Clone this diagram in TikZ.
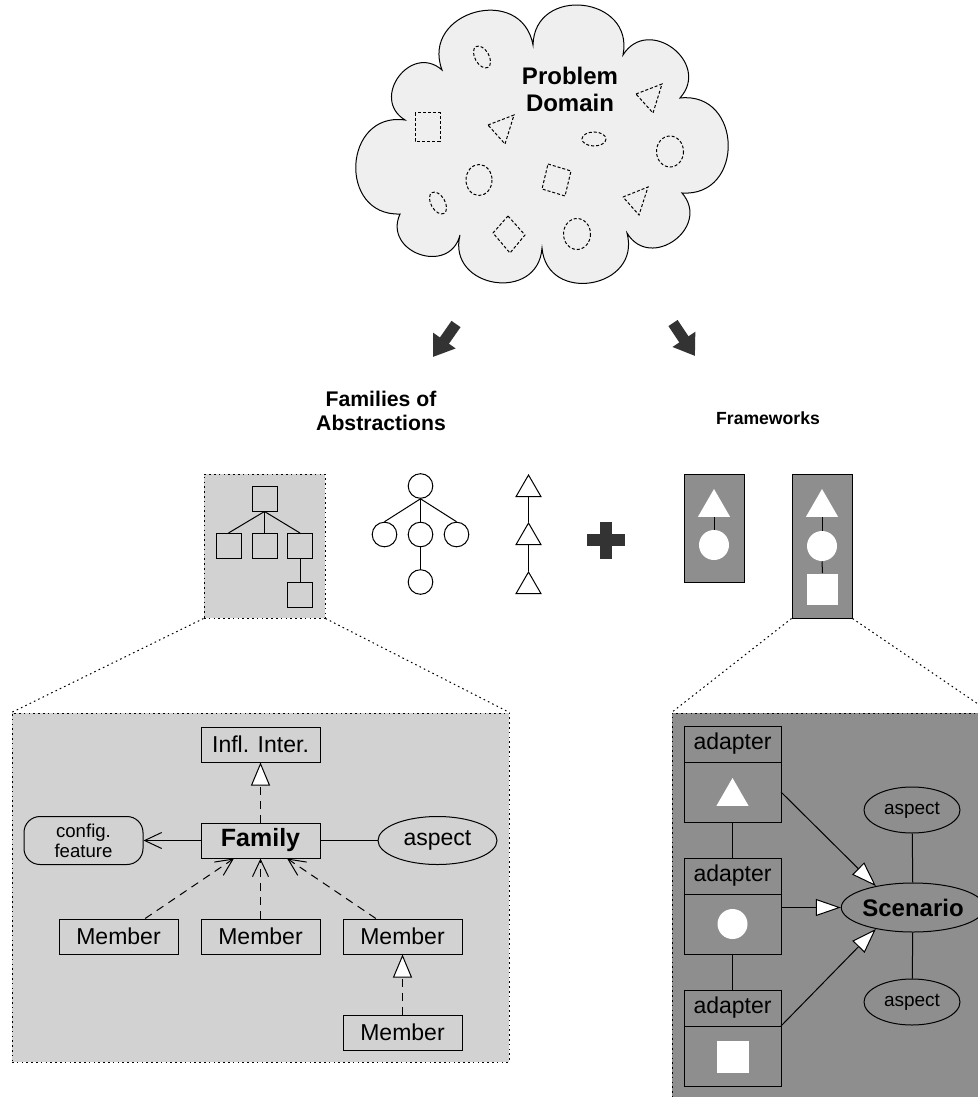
\documentclass[tikz,border=0pt]{standalone}
\usepackage{fontspec}
\setmainfont{Liberation Sans}
\usetikzlibrary{positioning,shapes.geometric,arrows.meta}

\definecolor{cloudfill}{HTML}{EFEFEF}
\definecolor{famfill}{HTML}{D2D2D2}
\definecolor{fwfill}{HTML}{8E8E8E}
\definecolor{bigarrow}{HTML}{333333}

\begin{document}
\begin{tikzpicture}
	[x=0.5pt, y=-0.5pt, line width=0.5pt, node distance=48pt,
	every node/.style={font=\fontsize{11.5}{13}\selectfont},
	title/.style={font=\fontsize{12}{13.5}\selectfont\bfseries, align=center},
	puff/.style={bend left=95, looseness=1.7},
	zoomline/.style={dash pattern=on 0.8pt off 1.6pt},
	dshape/.style={line width=0.5pt, dash pattern=on 1.5pt off 1pt},
	depline/.style={dash pattern=on 4pt off 3pt},
	blockarrow/.style={draw=bigarrow, line width=5.5pt, -{Triangle[length=10pt, width=13pt]}},
	tipopen/.style={-{Straight Barb[length=8.5pt, width=8pt]}},
	tiptri/.style={-{Triangle[length=11.5pt, width=9.5pt, fill=white]}},
	tipbig/.style={-{Triangle[length=12.5pt, width=8.5pt, fill=white]}},
	sqnode/.style={draw, rectangle, minimum size=12.5pt, inner sep=0pt},
	cnode/.style={draw, circle, minimum size=12.3pt, inner sep=0pt},
	tnode/.style={draw, regular polygon, regular polygon sides=3, minimum size=14.4pt, inner sep=0pt, anchor=corner 1},
	fwbox/.style={draw, fill=fwfill, minimum width=30pt, inner sep=0pt},
	wtri/.style={fill=white, regular polygon, regular polygon sides=3, minimum size=18.5pt, inner sep=0pt, anchor=corner 1},
	wcirc/.style={fill=white, circle, minimum size=15pt, inner sep=0pt},
	wsq/.style={fill=white, minimum size=15.5pt, inner sep=0pt},
	classbox/.style={draw, minimum width=59.5pt, minimum height=17.5pt, inner sep=0pt},
	featbox/.style={draw, rounded corners=8pt, minimum width=59.5pt, minimum height=24pt, inner sep=0pt, align=center, font=\fontsize{9.3}{10}\selectfont},
	aspL/.style={draw, ellipse, minimum width=59.5pt, minimum height=24pt, inner sep=0pt},
	aspR/.style={draw, ellipse, minimum width=48pt, minimum height=23pt, inner sep=0pt, font=\fontsize{9.5}{11}\selectfont},
	scen/.style={draw, ellipse, minimum width=60pt, minimum height=24.5pt, inner sep=0pt, font=\fontsize{12}{13}\selectfont\bfseries},
	adhead/.style={draw, minimum width=48.5pt, minimum height=18pt, inner sep=0pt, outer sep=0pt},
	adbody/.style={draw, minimum width=48.5pt, minimum height=30pt, inner sep=0pt, outer sep=0pt}]
	\useasboundingbox (0,0) rectangle (978,1097);
	% problem domain
	\draw[fill=cloudfill] (442,70) to[puff] (533,45) to[puff] (623,55) to[puff] (680,98)
		to[puff] (682,193) to[puff] (627,233) to[puff] (542,248) to[puff] (460,235)
		to[puff] (400,214) to[puff] (405,120) to[puff] (442,70) -- cycle;
	\node[title] (prob) at (570,89) {Problem\\Domain};
	\draw[dshape, rotate around={-60:(482,57)}] (482,57) ellipse [x radius=12, y radius=7];
	\draw[dshape, rotate around={-60:(438,203)}] (438,203) ellipse [x radius=12, y radius=7];
	\draw[dshape] (594,139) ellipse [x radius=12, y radius=7];
	\draw[dshape] (670,151.5) ellipse [x radius=13.5, y radius=15.5];
	\draw[dshape] (479,180) ellipse [x radius=13, y radius=15.5];
	\draw[dshape] (577,234) ellipse [x radius=13.5, y radius=15.5];
	\draw[dshape] (488,125) -- (514,115) -- (505,144) -- cycle;
	\draw[dshape] (636,94) -- (662,84) -- (653,113) -- cycle;
	\draw[dshape] (623,197) -- (648,187) -- (639,215) -- cycle;
	\draw[dshape] (415,113) rectangle (440,141);
	\draw[dshape] (548,164) -- (571,171) -- (565,196) -- (542,189) -- cycle;
	\draw[dshape] (508,216) -- (525,235) -- (510,253) -- (493,233) -- cycle;
	% arrows down
	\coordinate (arrL0) at (456,324);
	\coordinate (arrL1) at (433,357);
	\coordinate (arrR0) at (673,323);
	\coordinate (arrR1) at (695,356);
	\draw[blockarrow] (arrL0) -- (arrL1);
	\draw[blockarrow] (arrR0) -- (arrR1);
	\node[title, font=\fontsize{10.6}{12}\selectfont\bfseries] (famtitle) at (381,411) {Families of\\Abstractions};
	\node[title, font=\fontsize{8.8}{10}\selectfont\bfseries] (fwtitle) at (768,418) {Frameworks};
	% families
	\node[draw, zoomline, fill=famfill, minimum width=60.5pt, minimum height=72pt, inner sep=0pt] (famsel) at (264.5,546) {};
	\node[sqnode] (sq0) at (264.5,498.5) {};
	\node[sqnode] (sq1) at (228.5,546) {};
	\node[sqnode] (sq2) at (264.5,546) {};
	\node[sqnode] (sq3) at (300,546) {};
	\node[sqnode] (sq4) at (300,594.5) {};
	\draw (sq0.south) -- (sq1.north);
	\draw (sq0.south) -- (sq2.north);
	\draw (sq0.south) -- (sq3.north);
	\draw (sq3.south) -- (sq4.north);
	\node[cnode] (c0) at (420.5,486) {};
	\node[cnode] (c1) at (384.5,534.5) {};
	\node[cnode] (c2) at (420.5,534.5) {};
	\node[cnode] (c3) at (456.5,534.5) {};
	\node[cnode] (c4) at (420.5,582) {};
	\draw (c0.south) -- (c1.north);
	\draw (c0.south) -- (c2.north);
	\draw (c0.south) -- (c3.north);
	\draw (c2.south) -- (c4.north);
	\node[tnode] (t1) at (528.5,474) {};
	\node[tnode] (t2) at (528.5,522) {};
	\node[tnode] (t3) at (528.5,571) {};
	\draw (t1.side 2) -- (t2.corner 1);
	\draw (t2.side 2) -- (t3.corner 1);
	% plus
	\fill[bigarrow] (587,534) rectangle (625,546);
	\fill[bigarrow] (600,522) rectangle (612,559);
	% frameworks
	\node[fwbox, minimum height=54pt] (fw1) at (714,528) {};
	\node[wtri] (fw1t) at (714,488) {};
	\node[wcirc] (fw1c) at (714,545) {};
	\draw (fw1t.side 2) -- (fw1c.north);
	\node[fwbox, minimum height=72pt] (fw2) at (822,546) {};
	\node[wtri] (fw2t) at (822,488) {};
	\node[wcirc] (fw2c) at (822,546) {};
	\node[wsq] (fw2s) at (822.5,589) {};
	\draw (fw2t.side 2) -- (fw2c.north);
	\draw (fw2c.south) -- (fw2s.north);
	% zoomed family
	\node[draw, zoomline, fill=famfill, minimum width=248.5pt, minimum height=174.5pt, inner sep=0pt] (famL) at (260.5,887.5) {};
	\draw[zoomline] (famsel.south west) -- (famL.north west);
	\draw[zoomline] (famsel.south east) -- (famL.north east);
	\node[classbox] (infl) at (260.5,744.5) {Infl. Inter.};
	\node[classbox, below of=infl, font=\fontsize{12.5}{14}\selectfont\bfseries] (fam) {Family};
	\node[classbox, below of=fam] (mem2) {Member};
	\node[classbox, left of=mem2, node distance=71pt] (mem1) {Member};
	\node[classbox, right of=mem2, node distance=71pt] (mem3) {Member};
	\node[classbox, below of=mem3] (mem4) {Member};
	\node[featbox, left of=fam, node distance=88.5pt] (cfg) {config.\\feature};
	\node[aspL, right of=fam, node distance=88.5pt] (aspL) {aspect};
	\draw[depline, tiptri] (fam) -- (infl);
	\draw[tipopen] (fam) -- (cfg);
	\draw (fam) -- (aspL);
	\draw[depline, tipopen] (mem1) -- (fam);
	\draw[depline, tipopen] (mem2) -- (fam);
	\draw[depline, tipopen] (mem3) -- (fam);
	\draw[depline, tiptri] (mem4) -- (mem3);
	% zoomed framework
	\node[draw, zoomline, fill=fwfill, minimum width=159pt, minimum height=198.5pt, inner sep=0pt] (fwR) at (831,911.5) {};
	\draw[zoomline] (fw2.south west) -- (fwR.north west);
	\draw[zoomline] (fw2.south east) -- (fwR.north east);
	\node[adhead] (ah1) at (732.5,744) {adapter};
	\node[adbody, below=0pt of ah1] (ab1) {};
	\node[adhead, below=18pt of ab1] (ah2) {adapter};
	\node[adbody, below=0pt of ah2] (ab2) {};
	\node[adhead, below=18pt of ab2] (ah3) {adapter};
	\node[adbody, below=0pt of ah3] (ab3) {};
	\node[wtri] (ab1t) at (732.5,777) {};
	\node[wcirc] (ab2c) at (732.5,924) {};
	\node[wsq, minimum size=16pt] (ab3s) at (732.5,1056.5) {};
	\draw (ab1.south) -- (ah2.north);
	\draw (ab2.south) -- (ah3.north);
	\node[scen] (scen) at (913,907.5) {Scenario};
	\node[aspR] (aspT) at (912,810) {aspect};
	\node[aspR] (aspB) at (912,1002) {aspect};
	\draw (aspT) -- (scen);
	\draw (scen) -- (aspB);
	\draw[tipbig] (ab1.east) -- (scen.150);
	\draw[tipbig] (ab2.east |- scen.west) -- (scen.west);
	\draw[tipbig] (ah3.south east) -- (scen.210);
\end{tikzpicture}
\end{document}
